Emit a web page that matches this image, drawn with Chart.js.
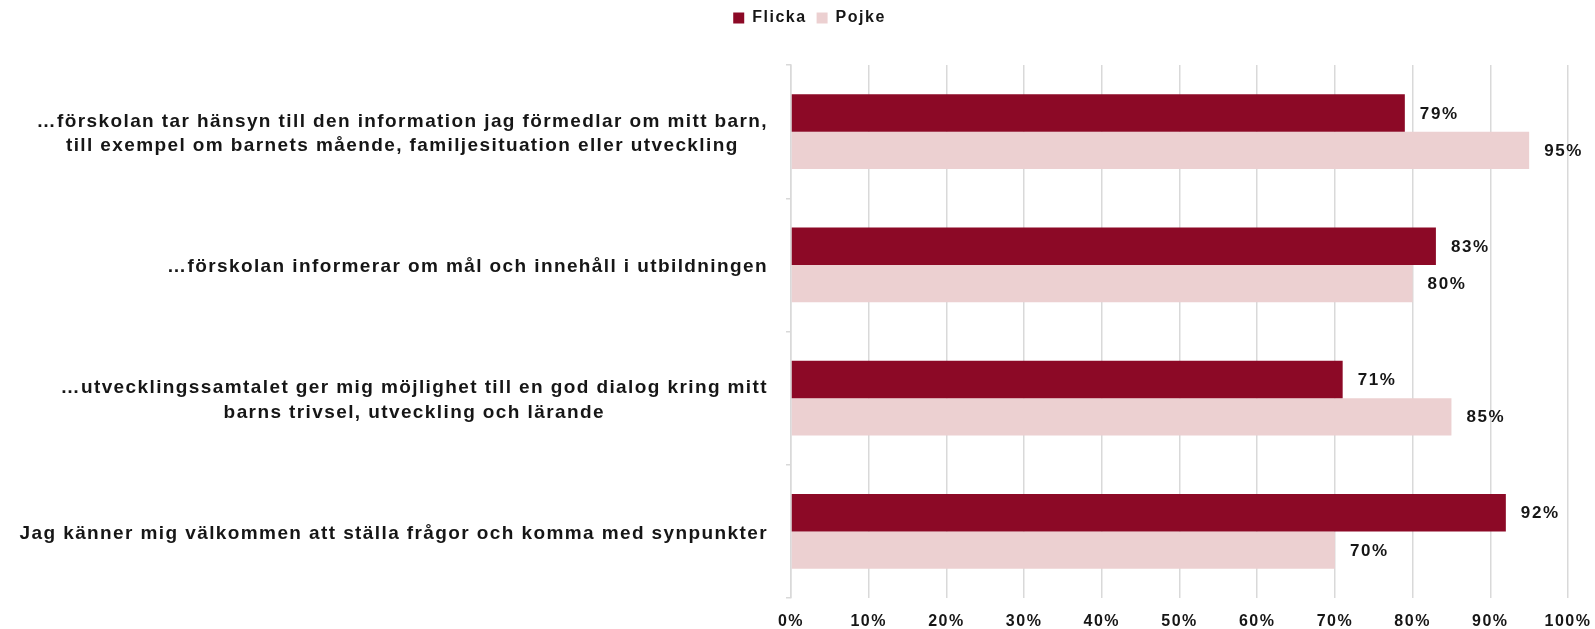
<!DOCTYPE html>
<html>
<head>
<meta charset="utf-8">
<script src="https://cdn.jsdelivr.net/npm/chart.js@4"></script>
<style>
html,body{margin:0;padding:0;background:#fff;}
#wrap{width:1595px;height:629px;position:relative;}
</style>
</head>
<body>
<div id="wrap"><canvas id="c" width="1595" height="629"></canvas></div>
<script>
const categories = [
  ["…förskolan tar hänsyn till den information jag förmedlar om mitt barn,", "till exempel om barnets mående, familjesituation eller utveckling"],
  ["…förskolan informerar om mål och innehåll i utbildningen"],
  ["…utvecklingssamtalet ger mig möjlighet till en god dialog kring mitt", "barns trivsel, utveckling och lärande"],
  ["Jag känner mig välkommen att ställa frågor och komma med synpunkter"]
];
const seriesNames = ["Flicka", "Pojke"];
const flicka = [79, 83, 71, 92];
const pojke = [95, 80, 85, 70];
const xTicks = [0, 10, 20, 30, 40, 50, 60, 70, 80, 90, 100];

const TEXT = '#161616';
const GRID = '#d9d9d9';

const spacingPlugin = {
  id: 'spacing',
  beforeLayout(chart){ chart.ctx.letterSpacing = '1.5px'; },
  beforeDraw(chart){ chart.ctx.letterSpacing = '1.5px'; }
};

const catLabelPlugin = {
  id: 'catLabels',
  afterDraw(chart){
    const ctx = chart.ctx;
    const y = chart.scales.y;
    const right = chart.chartArea.left - 23;
    ctx.save();
    ctx.letterSpacing = '1.4px';
    ctx.font = 'bold 19px "Liberation Sans", Arial, sans-serif';
    ctx.fillStyle = TEXT;
    ctx.textAlign = 'center';
    ctx.textBaseline = 'middle';
    const lh = 24.5;
    categories.forEach((lines, i) => {
      const cy = y.getPixelForTick(i) + 2;
      const w = Math.max(...lines.map(l => ctx.measureText(l).width));
      const cx = right - w / 2;
      const y0 = cy - (lines.length - 1) * lh / 2;
      lines.forEach((l, j) => ctx.fillText(l, cx, y0 + j * lh));
    });
    ctx.restore();
  }
};

const valueLabelPlugin = {
  id: 'valueLabels',
  afterDatasetsDraw(chart){
    const ctx = chart.ctx;
    ctx.save();
    ctx.letterSpacing = '1.6px';
    ctx.font = 'bold 17px "Liberation Sans", Arial, sans-serif';
    ctx.fillStyle = TEXT;
    ctx.textAlign = 'left';
    ctx.textBaseline = 'middle';
    chart.data.datasets.forEach((ds, di) => {
      const meta = chart.getDatasetMeta(di);
      meta.data.forEach((bar, i) => {
        ctx.fillText(ds.data[i] + '%', bar.x + 15, bar.y + 1);
      });
    });
    ctx.restore();
  }
};

new Chart(document.getElementById('c'), {
  type: 'bar',
  data: {
    labels: categories,
    datasets: [
      { label: seriesNames[0], data: flicka, backgroundColor: '#8c0926', borderWidth: 0 },
      { label: seriesNames[1], data: pojke, backgroundColor: '#ecd0d1', borderWidth: 0 }
    ]
  },
  plugins: [spacingPlugin, catLabelPlugin, valueLabelPlugin],
  options: {
    indexAxis: 'y',
    responsive: false,
    animation: false,
    devicePixelRatio: 1,
    layout: { padding: { left: 51, right: 27, top: 0, bottom: 0 } },
    datasets: { bar: { categoryPercentage: 0.56, barPercentage: 1.0 } },
    scales: {
      x: {
        min: 0, max: 100,
        afterBuildTicks(scale){ scale.ticks = xTicks.map(v => ({ value: v })); },
        afterFit(scale){ scale.height = 31; scale.paddingLeft = 0; scale.paddingRight = 0; },
        grid: { color: GRID, lineWidth: 1.5, drawTicks: false },
        border: { display: false },
        ticks: {
          padding: 14,
          color: TEXT,
          font: { family: '"Liberation Sans", Arial, sans-serif', size: 16, weight: 'bold' },
          callback: v => v + '%'
        }
      },
      y: {
        afterFit(scale){ scale.width = 740; },
        grid: { color: GRID, lineWidth: 1.5, drawOnChartArea: false, drawTicks: true, tickLength: 5, offset: true },
        border: { display: true, color: GRID, width: 1.5 },
        ticks: { display: false }
      }
    },
    plugins: {
      legend: {
        position: 'top',
        align: 'center',
        weight: 1000,
        labels: {
          boxWidth: 11, boxHeight: 11, padding: 10,
          color: TEXT,
          font: { family: '"Liberation Sans", Arial, sans-serif', size: 16, weight: 'bold' }
        }
      },
      title: {
        display: true, text: '', weight: 100,
        font: { size: 1, lineHeight: 1 },
        padding: { top: 0, bottom: 28 }
      },
      tooltip: { enabled: false }
    }
  }
});
</script>
</body>
</html>
